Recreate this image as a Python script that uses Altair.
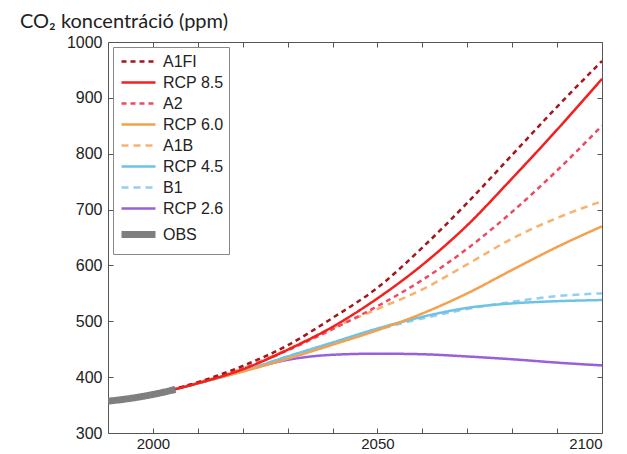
import altair as alt
import pandas as pd

# ---- data ----
years = [2000, 2010, 2020, 2030, 2040, 2050, 2060, 2070, 2080, 2090, 2100]
a1fi  = [369, 391, 420, 457, 506, 560, 632, 712, 798, 884, 966]
rcp85 = [369, 389, 414, 449, 490, 541, 601, 672, 756, 843, 934]
a2    = [369, 390, 415, 448, 486, 527, 574, 630, 696, 770, 850]
rcp60 = [369, 389, 410, 433, 458, 484, 514, 550, 592, 633, 670]
a1b   = [369, 390, 416, 450, 488, 522, 557, 602, 648, 685, 715]
rcp45 = [369, 389, 411, 437, 462, 487, 508, 524, 532, 536, 538]
b1    = [369, 389, 411, 437, 461, 485, 505, 522, 535, 545, 550]
rcp26 = [369, 389, 411, 431, 440, 442, 441, 437, 432, 426, 421]
obs_years = [1990, 1995, 2000, 2005]
obs_vals  = [357, 362, 369, 378]

series_order = ["A1FI", "RCP 8.5", "A2", "RCP 6.0", "A1B", "RCP 4.5", "B1", "RCP 2.6", "OBS"]
colors = ["#a3161b", "#f41f1f", "#ec4a62", "#f5a04e", "#f7b26e", "#6cc3e6", "#93d0ee", "#9a5fdc", "#7f7f7f"]
dashes = [[5, 4], [1, 0], [5, 4], [1, 0], [7, 5], [1, 0], [7, 5], [1, 0], [1, 0]]
widths = [2.5, 2.5, 2.5, 2.5, 2.5, 2.5, 2.5, 2.5, 7]

# drawing order (bottom to top)
draw = [("RCP 2.6", years, rcp26), ("B1", years, b1),
        ("RCP 4.5", years, rcp45), ("A1B", years, a1b), ("RCP 6.0", years, rcp60),
        ("A2", years, a2), ("A1FI", years, a1fi), ("RCP 8.5", years, rcp85),
        ("OBS", obs_years, obs_vals)]

x_ticks = [2000, 2010, 2020, 2030, 2040, 2050, 2060, 2070, 2080, 2090]
x_labels = [2000, 2050, 2100]
y_ticks = [300, 400, 500, 600, 700, 800, 900, 1000]

rows = []
for name, yrs, vals in draw:
    for yr, v in zip(yrs, vals):
        rows.append({"series": name, "year": yr, "value": v})
df = pd.DataFrame(rows)

W, H = 494, 391
xs = alt.Scale(domain=[1990, 2100], nice=False, zero=False)
ys = alt.Scale(domain=[300, 1000], nice=False, zero=False)

lab = dict(labelFont="Liberation Sans", labelColor="#222222",
           grid=False, domain=False, title=None)

lines = alt.Chart(df).mark_line(interpolate="monotone", clip=True).encode(
    x=alt.X("year:Q", scale=xs, axis=alt.Axis(values=x_labels, format="d", ticks=False,
                                              labelPadding=3, labelFontSize=15, **lab)),
    y=alt.Y("value:Q", scale=ys, axis=alt.Axis(values=y_ticks, format="d", ticks=False,
                                               labelPadding=6, labelFontSize=16, **lab)),
    color=alt.Color("series:N", scale=alt.Scale(domain=series_order, range=colors), title=None),
    strokeDash=alt.StrokeDash("series:N", scale=alt.Scale(domain=series_order, range=dashes), title=None),
    strokeWidth=alt.StrokeWidth("series:O", scale=alt.Scale(type="ordinal", domain=series_order, range=widths), title=None),
)

tick_ax = dict(labels=False, ticks=True, tickSize=5, tickColor="#555555", tickWidth=1,
               grid=False, domain=False, title=None)

inner1 = alt.Chart(df).mark_line(opacity=0).encode(
    x=alt.X("year:Q", scale=xs, axis=alt.Axis(orient="top", offset=-H, values=x_ticks, **tick_ax)),
    y=alt.Y("value:Q", scale=ys, axis=alt.Axis(orient="right", offset=-W, values=y_ticks, **tick_ax)),
)
inner2 = alt.Chart(df).mark_line(opacity=0).encode(
    x=alt.X("year:Q", scale=xs, axis=alt.Axis(orient="bottom", offset=-H, values=x_ticks, **tick_ax)),
    y=alt.Y("value:Q", scale=ys, axis=alt.Axis(orient="left", offset=-W, values=y_ticks, **tick_ax)),
)

chart = alt.layer(lines, inner1, inner2).resolve_axis(
    x="independent", y="independent"
).properties(
    width=W, height=H,
    title=alt.TitleParams("CO₂ koncentráció (ppm)", anchor="start", frame="group", dx=-88,
                          font="Lato", fontSize=20, fontWeight="normal", color="#222222", offset=2),
    autosize=alt.AutoSizeParams(type="none"),
    padding={"left": 100, "top": 34, "right": 17, "bottom": 21},
).configure_view(
    stroke="#555555", strokeWidth=1
).configure_legend(
    orient="top-left", offset=5, padding=5, fillColor="white", strokeColor="#888888",
    symbolType="M-1,0H3.25", symbolSize=256, symbolStrokeWidth=2.5,
    labelFont="Liberation Sans", labelFontSize=16, labelColor="#222222", labelOffset=22,
    rowPadding=3, cornerRadius=0,
)

chart.save("out.html", embed_options={"renderer": "svg", "actions": False})
